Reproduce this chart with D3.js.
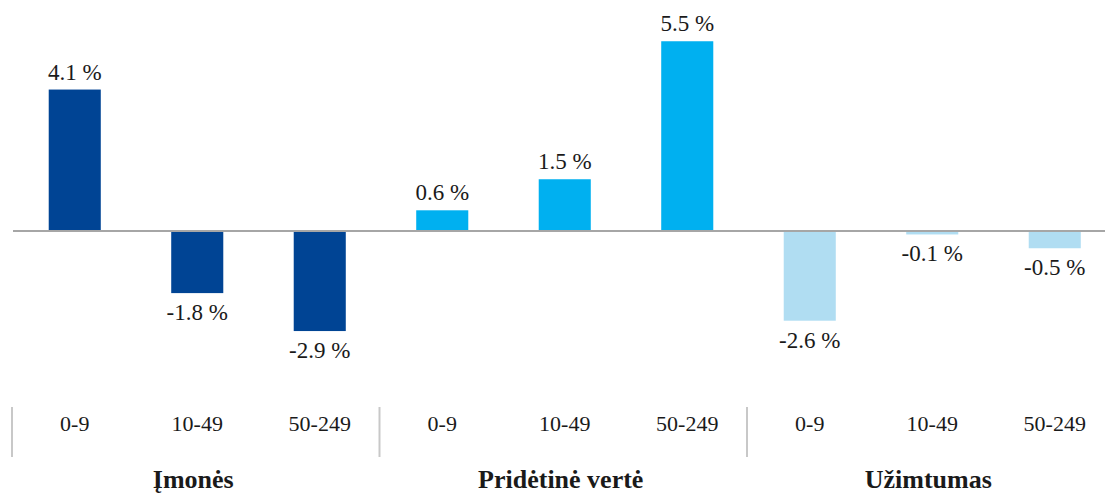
<!DOCTYPE html>
<html>
<head>
<meta charset="utf-8">
<script src="https://cdn.jsdelivr.net/npm/d3@7"></script>
<style>
    body { margin: 0; background: #fff; }
    svg { display: block; }
    text { font-family: "Liberation Serif", "Times New Roman", serif; fill: #1a1a1a; }
</style>
</head>
<body>
<div id="chart"></div>
<script>
// data
const groups = ['Įmonės', 'Pridėtinė vertė', 'Užimtumas'];
const sizeClasses = ['0-9', '10-49', '50-249'];
const imones = [4.1, -1.8, -2.9];
const pridetineVerte = [0.6, 1.5, 5.5];
const uzimtumas = [-2.6, -0.1, -0.5];
const groupColors = ['#004494', '#00b0f0', '#b0ddf2'];

const width = 1105, height = 495;

const seriesValues = [imones, pridetineVerte, uzimtumas];
const rows = [];
groups.forEach(function (g, gi) {
    sizeClasses.forEach(function (c, ci) {
        rows.push({key: gi + '_' + ci, group: g, gi: gi, cat: c, value: seriesValues[gi][ci]});
    });
});

const svg = d3.select('#chart').append('svg')
    .attr('width', width).attr('height', height);

const x = d3.scaleBand()
    .domain(rows.map(d => d.key))
    .range([13.5, 1116])
    .paddingInner(0.575)
    .paddingOuter(0.2875);

const y = d3.scaleLinear()
    .domain([-3, 6])
    .range([334.5, 24]);

// bars
svg.append('g').selectAll('rect')
    .data(rows)
    .enter().append('rect')
    .attr('x', d => x(d.key))
    .attr('width', x.bandwidth())
    .attr('y', d => y(Math.max(0, d.value)))
    .attr('height', d => Math.abs(y(d.value) - y(0)))
    .attr('fill', d => groupColors[d.gi]);

// zero line
svg.append('line')
    .attr('x1', 13).attr('x2', width)
    .attr('y1', y(0)).attr('y2', y(0))
    .attr('stroke', '#a6a6a6').attr('stroke-width', 2);

// value labels
svg.append('g').selectAll('text')
    .data(rows)
    .enter().append('text')
    .attr('x', d => x(d.key) + x.bandwidth() / 2)
    .attr('y', d => d.value >= 0 ? y(d.value) - 10 : y(d.value) + 27)
    .attr('text-anchor', 'middle')
    .style('font-size', '23px')
    .text(d => d.value.toFixed(1) + ' %');

// category axis
const step = x.step();
const sepX = groups.map((g, gi) => x(gi + '_0') - (step - x.bandwidth()) / 2 - 1.5);

svg.append('g').selectAll('line')
    .data(sepX)
    .enter().append('line')
    .attr('x1', d => d).attr('x2', d => d)
    .attr('y1', 407).attr('y2', 457)
    .attr('stroke', '#c8c8c8').attr('stroke-width', 2);

svg.append('g').selectAll('text')
    .data(rows)
    .enter().append('text')
    .attr('x', d => x(d.key) + x.bandwidth() / 2)
    .attr('y', 431)
    .attr('text-anchor', 'middle')
    .style('font-size', '22px')
    .text(d => d.cat);

svg.append('g').selectAll('text')
    .data(groups)
    .enter().append('text')
    .attr('x', (g, gi) => x(gi + '_1') + x.bandwidth() / 2 - 4)
    .attr('y', 488)
    .attr('text-anchor', 'middle')
    .style('font-size', '26px')
    .style('font-weight', 'bold')
    .text(d => d);
</script>
</body>
</html>
